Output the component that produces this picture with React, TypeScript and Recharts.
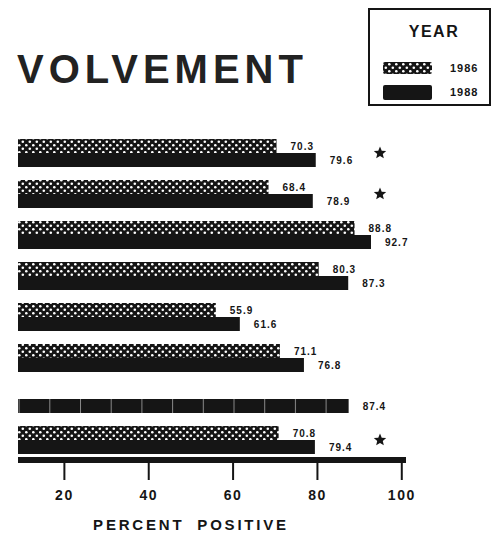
import React from 'react';
import { Bar, BarChart, Cell, Label, LabelList, XAxis, YAxis } from 'recharts';

const categories = ['1', '2', '3', '4', '5', '6', '7', '8'];
const year1986 = [70.3, 68.4, 88.8, 80.3, 55.9, 71.1, null, 70.8];
const year1988 = [79.6, 78.9, 92.7, 87.3, 61.6, 76.8, 87.4, 79.4];
const starred = [true, true, false, false, false, false, false, true];
const xTicks = [20, 40, 60, 80, 100];

const data = categories.map((name, i) => ({
  name,
  y1986: year1986[i],
  y1988: year1988[i],
  star: starred[i],
}));

const FONT = '"Liberation Sans", Arial, sans-serif';
const STAR_X = 380;

function starPoints(cx: number, cy: number, r: number) {
  const pts: string[] = [];
  for (let i = 0; i < 10; i++) {
    const rad = i % 2 === 0 ? r : r * 0.45;
    const a = -Math.PI / 2 + (i * Math.PI) / 5;
    pts.push(`${cx + rad * Math.cos(a)},${cy + rad * Math.sin(a)}`);
  }
  return pts.join(' ');
}

function ValueLabel(props: any) {
  const { x, y, width, height, value, index, withStar } = props;
  if (value == null) return null;
  return (
    <g>
      <text
        x={x + width + 14}
        y={y + height / 2}
        dominantBaseline="central"
        fontFamily={FONT}
        fontWeight="bold"
        fontSize={10}
        letterSpacing={1}
        fill="#151515"
      >
        {value.toFixed(1)}
      </text>
      {withStar && starred[index] && (
        <polygon points={starPoints(STAR_X, y, 6.5)} fill="#151515" />
      )}
    </g>
  );
}

export default function App() {
  return (
    <div style={{ position: 'absolute', left: 0, top: 0, width: 495, height: 535, background: '#fff' }}>
      <div
        style={{
          position: 'absolute',
          left: 17,
          top: 45,
          fontFamily: FONT,
          fontWeight: 'bold',
          fontSize: 40,
          letterSpacing: 5,
          color: '#222',
          lineHeight: '48px',
        }}
      >
        VOLVEMENT
      </div>
      <div
        style={{
          position: 'absolute',
          left: 368,
          top: 8,
          width: 119,
          height: 94,
          border: '2px solid #151515',
        }}
      >
        <svg width={119} height={94}>
          <defs>
            <pattern id="dotsLegend" patternUnits="userSpaceOnUse" width={7} height={7}>
              <rect width={7} height={7} fill="#151515" />
              <circle cx={1.8} cy={1.8} r={1.3} fill="#fff" />
              <circle cx={5.3} cy={5.3} r={1.3} fill="#fff" />
            </pattern>
          </defs>
          <text x={64} y={27} textAnchor="middle" fontFamily={FONT} fontWeight="bold" fontSize={16} letterSpacing={1.5} fill="#151515">
            YEAR
          </text>
          <rect x={13} y={52} width={49} height={12} rx={2} fill="url(#dotsLegend)" />
          <rect x={13} y={75} width={49} height={15} rx={2} fill="#151515" />
          <text x={80} y={58} dominantBaseline="central" fontFamily={FONT} fontWeight="bold" fontSize={11} letterSpacing={1} fill="#151515">
            1986
          </text>
          <text x={80} y={82} dominantBaseline="central" fontFamily={FONT} fontWeight="bold" fontSize={11} letterSpacing={1} fill="#151515">
            1988
          </text>
        </svg>
      </div>
      <div style={{ position: 'absolute', left: 0, top: 0 }}>
        <BarChart
          width={495}
          height={535}
          data={data}
          layout="vertical"
          margin={{ top: 132, right: 89, left: 18, bottom: 3 }}
          barGap={0}
          barSize={14}
        >
          <defs>
            <pattern id="dots" patternUnits="userSpaceOnUse" width={7} height={7}>
              <rect width={7} height={7} fill="#151515" />
              <circle cx={1.8} cy={1.8} r={1.3} fill="#fff" />
              <circle cx={5.3} cy={5.3} r={1.3} fill="#fff" />
            </pattern>
            <pattern id="segs" patternUnits="userSpaceOnUse" x={18.6} width={30.7} height={10}>
              <rect width={30.7} height={10} fill="#151515" />
              <rect x={0} width={1} height={10} fill="#888" />
            </pattern>
          </defs>
          <XAxis
            type="number"
            domain={[9, 101]}
            ticks={xTicks}
            allowDataOverflow
            height={72}
            axisLine={{ stroke: '#151515', strokeWidth: 6 }}
            tickLine={{ stroke: '#151515', strokeWidth: 2 }}
            tickSize={20}
            tickMargin={10}
            tick={{ fontFamily: FONT, fontWeight: 'bold', fontSize: 14, fill: '#151515', letterSpacing: 1.5 }}
          >
            <Label
              value="PERCENT POSITIVE"
              position="insideBottom"
              offset={2}
              dx={-21}
              style={{ fontFamily: FONT, fontWeight: 'bold', fontSize: 15, letterSpacing: 2.8, wordSpacing: 6, fill: '#151515' }}
            />
          </XAxis>
          <YAxis type="category" dataKey="name" hide />
          <Bar dataKey="y1986" fill="url(#dots)" isAnimationActive={false}>
            <LabelList dataKey="y1986" content={(p: any) => <ValueLabel {...p} />} />
          </Bar>
          <Bar dataKey="y1988" fill="#151515" isAnimationActive={false}>
            {data.map((d, i) => (
              <Cell key={d.name} fill={d.y1986 == null ? 'url(#segs)' : '#151515'} />
            ))}
            <LabelList dataKey="y1988" content={(p: any) => <ValueLabel {...p} withStar />} />
          </Bar>
        </BarChart>
      </div>
    </div>
  );
}
